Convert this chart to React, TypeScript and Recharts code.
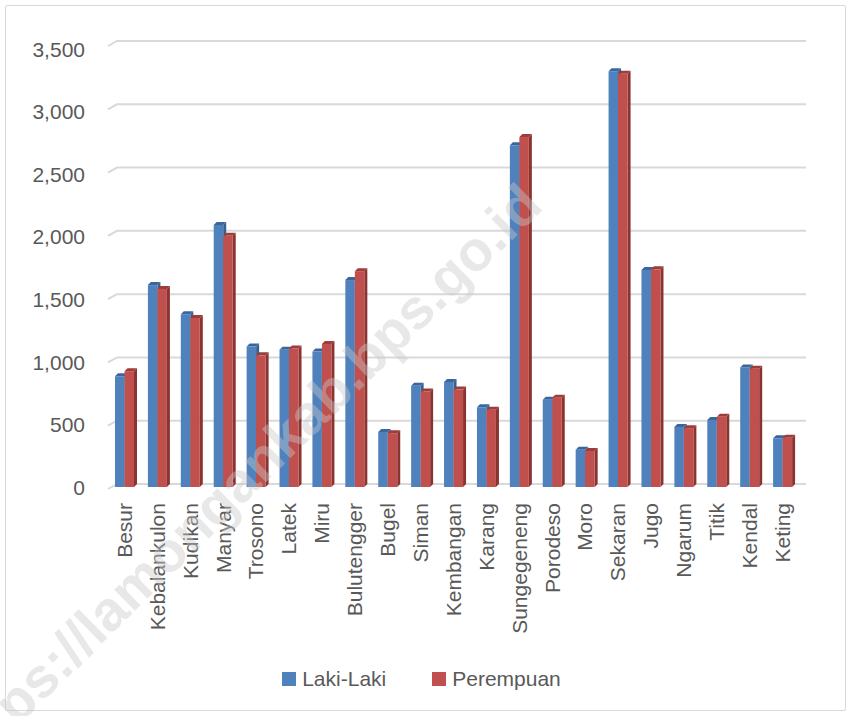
import React from 'react';
import { BarChart, Bar, XAxis, YAxis, CartesianGrid } from 'recharts';

const villages = ['Besur', 'Kebalankulon', 'Kudikan', 'Manyar', 'Trosono', 'Latek', 'Miru', 'Bulutengger', 'Bugel', 'Siman', 'Kembangan', 'Karang', 'Sungegeneng', 'Porodeso', 'Moro', 'Sekaran', 'Jugo', 'Ngarum', 'Titik', 'Kendal', 'Keting'];
const lakiLaki = [875, 1595, 1365, 2070, 1110, 1085, 1070, 1635, 435, 800, 830, 630, 2700, 690, 295, 3285, 1715, 475, 530, 945, 385];
const perempuan = [915, 1565, 1335, 1985, 1040, 1095, 1130, 1705, 425, 755, 770, 610, 2765, 705, 285, 3265, 1720, 465, 555, 935, 390];
const yTicks = [0, 500, 1000, 1500, 2000, 2500, 3000, 3500];
const seriesNames = ['Laki-Laki', 'Perempuan'];

const data = villages.map((v, i) => ({ name: v, laki: lakiLaki[i], perempuan: perempuan[i] }));

const FONT = '"Liberation Sans", Arial, sans-serif';
const TEXT = '#595959';
const BLUE = '#4f81bd';
const RED = '#c0504d';
const DEPTH = 3;

function Bar3D(props: any) {
  const { x, y, width, height, front, top, side } = props;
  if (height == null || height <= 0 || x == null) return null;
  const d = DEPTH;
  return (
    <g>
      <polygon points={`${x + width},${y + d} ${x + width + d},${y} ${x + width + d},${y + height} ${x + width},${y + height + d}`} fill={side} />
      <polygon points={`${x},${y + d} ${x + d},${y} ${x + width + d},${y} ${x + width},${y + d}`} fill={top} />
      <rect x={x} y={y + d} width={width} height={height} fill={front} />
    </g>
  );
}

function GridLine(props: any) {
  const { x1, x2, y1 } = props;
  return (
    <path
      key={`g-${y1}`}
      d={`M${x1} ${y1 + 5} L${x1 + 9} ${y1} L${x2 + 7} ${y1}`}
      stroke="#d9d9d9"
      strokeWidth={2}
      fill="none"
    />
  );
}

function YTick(props: any) {
  const { y, payload } = props;
  const v = payload.value;
  const off = 3.5 + (4.5 * v) / 3500;
  return (
    <text x={85} y={y + off} dy="0.36em" textAnchor="end" fill={TEXT} fontSize={21} fontFamily={FONT}>
      {v.toLocaleString('en-US')}
    </text>
  );
}

function XTick(props: any) {
  const { x, payload } = props;
  const yy = 503;
  return (
    <text
      x={x}
      y={yy}
      dy="0.35em"
      textAnchor="end"
      transform={`rotate(-90, ${x}, ${yy})`}
      fill={TEXT}
      fontSize={21}
      fontFamily={FONT}
    >
      {payload.value}
    </text>
  );
}

function LegendBox() {
  const items = [
    { name: seriesNames[0], color: BLUE },
    { name: seriesNames[1], color: RED },
  ];
  return (
    <div
      style={{
        position: 'absolute',
        left: 0,
        top: 664,
        width: 849,
        display: 'flex',
        justifyContent: 'center',
        gap: 46,
        fontFamily: FONT,
        fontSize: 21,
        color: TEXT,
        lineHeight: '30px',
        paddingRight: 6,
        boxSizing: 'border-box',
      }}
    >
      {items.map((it) => (
        <div key={it.name} style={{ display: 'flex', alignItems: 'center' }}>
          <span style={{ display: 'inline-block', width: 14, height: 14, background: it.color, marginRight: 6 }} />
          <span>{it.name}</span>
        </div>
      ))}
    </div>
  );
}

function Watermark() {
  return (
    <svg width={849} height={716} style={{ position: 'absolute', left: 0, top: 0, pointerEvents: 'none' }}>
      <text
        x={545}
        y={208}
        textAnchor="end"
        transform="rotate(-44.5, 545, 208)"
        fontFamily={FONT}
        fontWeight="bold"
        fontSize={56}
        fill="#c8c8c8"
        fillOpacity={0.42}
      >
        https://lamongankab.bps.go.id
      </text>
    </svg>
  );
}

export default function App() {
  return (
    <div style={{ position: 'absolute', left: 0, top: 0, width: 849, height: 716, background: '#fff', overflow: 'hidden' }}>
      <div
        style={{
          position: 'absolute',
          left: 5,
          top: 5,
          width: 841,
          height: 706,
          border: '1px solid #d9d9d9',
          borderRadius: 2,
          boxSizing: 'border-box',
        }}
      />
      <BarChart
        width={849}
        height={716}
        data={data}
        margin={{ top: 41, right: 50, left: 0, bottom: 0 }}
        barGap={0}
        barSize={9.5}
      >
        <CartesianGrid vertical={false} horizontal={(p: any) => <GridLine {...p} />} />
        <XAxis dataKey="name" height={232} interval={0} tickLine={false} axisLine={false} tick={<XTick />} />
        <YAxis
          width={108}
          domain={[0, 3500]}
          ticks={yTicks}
          tickLine={false}
          axisLine={false}
          tick={<YTick />}
        />
        <Bar
          dataKey="laki"
          name={seriesNames[0]}
          fill={BLUE}
          isAnimationActive={false}
          shape={(p: any) => <Bar3D {...p} front={BLUE} top="#3b669c" side="#35608f" />}
        />
        <Bar
          dataKey="perempuan"
          name={seriesNames[1]}
          fill={RED}
          isAnimationActive={false}
          shape={(p: any) => <Bar3D {...p} front={RED} top="#9e3c39" side="#8a3431" />}
        />
      </BarChart>
      <LegendBox />
      <Watermark />
    </div>
  );
}
